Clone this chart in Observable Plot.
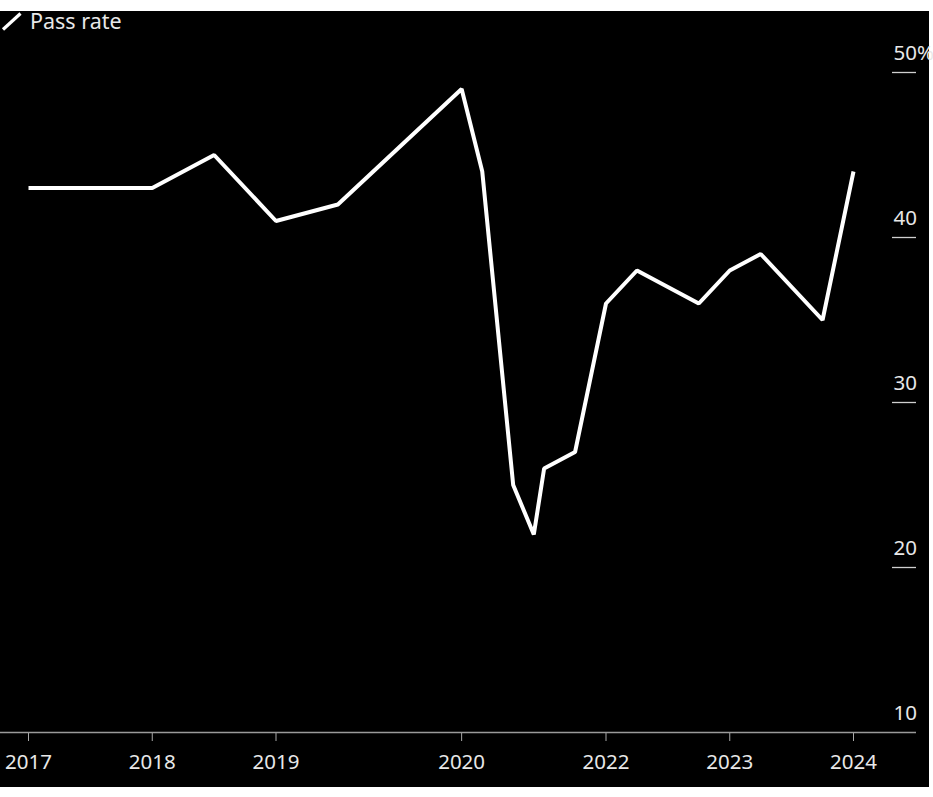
<!DOCTYPE html>
<html>
<head>
<meta charset="utf-8">
<script src="https://cdn.jsdelivr.net/npm/d3@7"></script>
<script src="https://cdn.jsdelivr.net/npm/@observablehq/plot@0.6"></script>
<style>
  html, body { margin: 0; padding: 0; background: #fff; }
  #box { position: relative; margin-top: 11px; width: 929px; height: 776px; background: #000; overflow: visible; }
  #legend { position: absolute; left: 0; top: 0; height: 26px;
            font-family: "Noto Sans", "Open Sans", sans-serif; font-size: 21.5px; color: #e8e8e8; }
  #legend svg { position: absolute; left: 0; top: 0; display: block; }
  #legend span { position: absolute; left: 30px; top: -5px; white-space: nowrap; }
  #chart { position: absolute; left: 0; top: 0; }
  #chart svg { overflow: visible; }
</style>
</head>
<body>
<div id="box">
  <div id="chart"></div>
  <div id="legend">
    <svg width="24" height="22"><line x1="3" y1="18.5" x2="20.5" y2="2.5" stroke="#fff" stroke-width="3.2"/></svg>
    <span>Pass rate</span>
  </div>
</div>
<script>
// Month offsets (from start of series) and pass rates (%)
const monthIndex = [0, 12, 18, 24, 30, 42, 44, 47, 49, 50, 53, 56, 59, 65, 68, 71, 77, 80];
const passRate   = [43, 43, 45, 41, 42, 49, 44, 25, 22, 26, 27, 36, 38, 36, 38, 39, 35, 44];

const xTickPositions = [0, 12, 24, 42, 56, 68, 80];
const xTickLabels = ["2017", "2018", "2019", "2020", "2022", "2023", "2024"];
const yTicks = [10, 20, 30, 40, 50];

const data = monthIndex.map((m, i) => ({m, v: passRate[i]}));
const labelOf = new Map(xTickPositions.map((p, i) => [p, xTickLabels[i]]));

const chart = Plot.plot({
  width: 929,
  height: 776,
  marginLeft: 28,
  marginRight: 76,
  marginTop: 61,
  marginBottom: 55,
  style: {background: "transparent", fontFamily: "'Noto Sans', 'Open Sans', sans-serif", fontSize: "20.5px", color: "#e8e8e8", overflow: "visible"},
  x: {domain: [0, 80]},
  y: {domain: [10, 50], axis: null},
  marks: [
    Plot.axisX(xTickPositions, {
      tickSize: 9, tickPadding: 13, stroke: "#aaa", fill: "#e8e8e8",
      tickFormat: d => labelOf.get(d), label: null, fontSize: 20.5
    }),
    Plot.ruleY([10], {stroke: "#9a9a9a", strokeWidth: 1.3, insetLeft: -28, insetRight: -63}),
    Plot.ruleY(yTicks.filter(d => d !== 10), {stroke: "#cfcfcf", strokeWidth: 1.3, insetLeft: 864, insetRight: -63}),
    Plot.text(yTicks, {
      y: d => d, frameAnchor: "right", dx: 40, dy: -13, textAnchor: "start", lineAnchor: "bottom",
      text: d => d === 50 ? "50%" : String(d), fill: "#e8e8e8", fontSize: 20.5
    }),
    Plot.line(data, {x: "m", y: "v", stroke: "#fff", strokeWidth: 4, strokeLinejoin: "miter", strokeLinecap: "butt"})
  ]
});
document.getElementById("chart").appendChild(chart);
</script>
</body>
</html>
